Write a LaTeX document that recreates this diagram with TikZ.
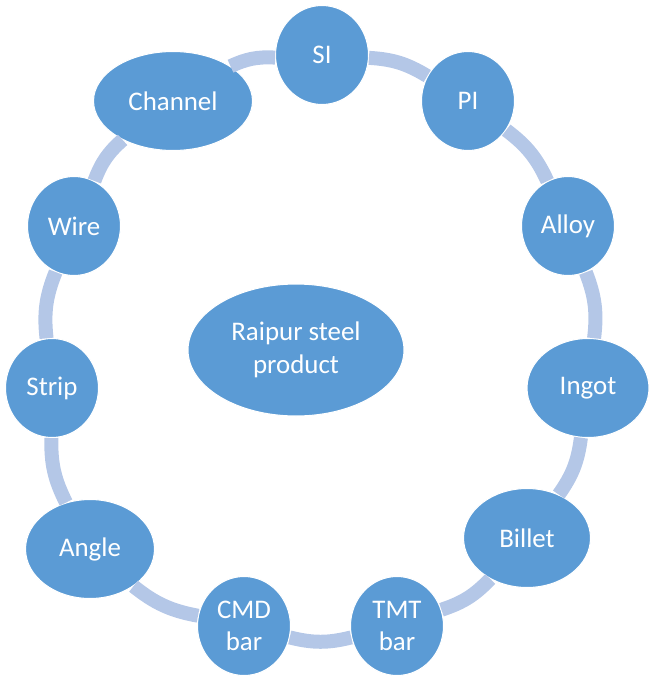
\documentclass[tikz,border=0pt]{standalone}
\usepackage{fontspec}
\setmainfont{Carlito}
\usepackage{xcolor}
\usepackage{tikz}
\usetikzlibrary{positioning,shapes.geometric}

\definecolor{nodeblue}{HTML}{5B9BD5}
\definecolor{ringblue}{HTML}{B4C7E7}

\begin{document}
\begin{tikzpicture}[x=0.2mm, y=-0.2mm]
    % Styles
    \tikzstyle{item} = [ellipse, inner sep=0pt, minimum width=18.6mm, minimum height=19.8mm,
                        fill=nodeblue, draw=white, line width=0.6pt, text=white, align=center,
                        font=\fontsize{15.3}{18.5}\selectfont]
    \tikzstyle{wide} = [item, minimum width=25.4mm]
    \tikzstyle{hub} = [item, minimum width=43.2mm, minimum height=26.4mm]
    \tikzstyle{ring} = [ringblue, line width=2.8mm]

    \useasboundingbox (0,0) rectangle (654,678);

    % Nodes around the ring, clockwise from the top
    \node (si) [item] at (322,55) {SI};
    \node (pi) [item] at (468,101) {PI};
    \node (alloy) [item] at (568,226) {Alloy};
    \node (ingot) [wide, minimum width=24.4mm] at (588,388) {Ingot};
    \node (billet) [wide] at (527,538) {Billet};
    \node (tmt) [item] at (397,626) {TMT\\bar};
    \node (cmd) [item] at (244,626) {CMD\\bar};
    \node (angle) [wide, minimum width=25.8mm] at (90,549) {Angle};
    \node (strip) [item] at (52,388) {Strip};
    \node (wire) [item] at (74,226) {Wire};
    \node (channel) [wide, minimum width=31.8mm] at (173,101) {Channel};

    % Centre
    \node (raipur) [hub] at (296,350) {Raipur steel\\product};

    % Ring
    \draw [ring] (si) to[bend left=14] (pi);
    \draw [ring] (pi) to[bend left=14] (alloy);
    \draw [ring] (alloy) to[bend left=14] (ingot);
    \draw [ring] (ingot) to[bend left=14] (billet);
    \draw [ring] (billet) to[bend left=14] (tmt);
    \draw [ring] (tmt) to[bend left=14] (cmd);
    \draw [ring] (cmd) to[bend left=14] (angle);
    \draw [ring] (angle) to[bend left=14] (strip);
    \draw [ring] (strip) to[bend left=14] (wire);
    \draw [ring] (wire) to[bend left=14] (channel);
    \draw [ring] (channel) to[bend left=14] (si);

\end{tikzpicture}
\end{document}
